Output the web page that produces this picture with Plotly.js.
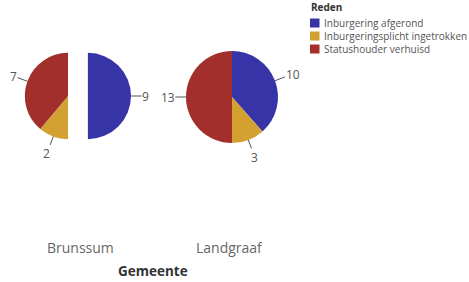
<!DOCTYPE html>
<html>
<head>
<meta charset="utf-8">
<script src="https://cdn.plot.ly/plotly-3.0.1.min.js"></script>
<style>html,body{margin:0;padding:0;background:#fff;}#chart{width:469px;height:282px;}</style>
</head>
<body>
<div id="chart"></div>
<script>
const gemeenten = ["Brunssum", "Landgraaf"];
const redenen = ["Inburgering afgerond", "Inburgeringsplicht ingetrokken", "Statushouder verhuisd"];
const brunssumValues = [9, 2, 7];
const landgraafValues = [10, 3, 13];
const brunssumPull = [0.46, 0, 0];
const landgraafPull = [0, 0, 0];
const kleuren = ["#3634a6", "#d3a032", "#a32f2d"];
const legendTitle = "Reden";
const xTitle = "Gemeente";

const W = 469, H = 282;
const px = x => x / W;
const py = y => 1 - y / H;
const FONT = "Open Sans, sans-serif";

const common = {
  type: "pie",
  labels: redenen,
  sort: false,
  direction: "clockwise",
  rotation: 0,
  textinfo: "none",
  marker: {colors: kleuren, line: {width: 0}},
  hoverinfo: "none",
  showlegend: false
};

const valueSets = [brunssumValues, landgraafValues];
const pullSets = [brunssumPull, landgraafPull];

const traces = [
  Object.assign({}, common, {
    values: brunssumValues,
    name: gemeenten[0],
    pull: brunssumPull,
    domain: {x: [px(5), px(131)], y: [py(159), py(33)]}
  }),
  Object.assign({}, common, {
    values: landgraafValues,
    name: gemeenten[1],
    pull: landgraafPull,
    domain: {x: [px(186), px(278)], y: [py(143), py(51)]}
  })
];

const shapes = [];
const baseAnnotations = [];
const legendY = [23, 36, 49];
redenen.forEach((r, i) => {
  const c = legendY[i];
  shapes.push({type: "rect", xref: "paper", yref: "paper",
    x0: px(310), x1: px(319.5), y0: py(c + 4.5), y1: py(c - 4.5),
    fillcolor: kleuren[i], line: {width: 0}});
  baseAnnotations.push({xref: "paper", yref: "paper", x: px(322), y: py(c),
    xanchor: "left", yanchor: "middle", showarrow: false, text: r,
    font: {family: FONT, size: 10, color: "#555"}});
});
baseAnnotations.push({xref: "paper", yref: "paper", x: px(309), y: py(7),
  xanchor: "left", yanchor: "middle", showarrow: false, text: "<b>" + legendTitle + "</b>",
  font: {family: FONT, size: 10, color: "#333"}});

const labelX = [80, 229];
gemeenten.forEach((g, i) => {
  baseAnnotations.push({xref: "paper", yref: "paper", x: px(labelX[i]), y: py(247),
    xanchor: "center", yanchor: "middle", showarrow: false, text: g,
    font: {family: FONT, size: 14, color: "#666"}});
});
baseAnnotations.push({xref: "paper", yref: "paper", x: px(153), y: py(271),
  xanchor: "center", yanchor: "middle", showarrow: false, text: "<b>" + xTitle + "</b>",
  font: {family: FONT, size: 13.5, color: "#333"}});

const layout = {
  width: W, height: H,
  margin: {l: 0, r: 0, t: 0, b: 0},
  paper_bgcolor: "#fff",
  plot_bgcolor: "#fff",
  showlegend: false,
  shapes: shapes,
  annotations: baseAnnotations,
  font: {family: FONT}
};

Plotly.newPlot("chart", traces, layout, {displayModeBar: false, staticPlot: true}).then(gd => {
  const extra = [];
  gd.calcdata.forEach((cd, ti) => {
    const cd0 = cd[0];
    const cx = cd0.cx, cy = cd0.cy, r = cd0.r;
    const vals = valueSets[ti];
    const pulls = pullSets[ti];
    const total = vals.reduce((a, b) => a + b, 0);
    let cum = 0;
    vals.forEach((v, i) => {
      const mid = 2 * Math.PI * (cum + v / 2) / total;
      cum += v;
      const ux = Math.sin(mid), uy = -Math.cos(mid);
      const off = (pulls[i] || 0) * r;
      const ex = cx + ux * (r + off), ey = cy + uy * (r + off);
      const txt = String(v);
      const hw = txt.length * 3.6 + 1, hh = 8;
      const d = Math.min(Math.abs(ux) > 1e-6 ? hw / Math.abs(ux) : 1e9,
                         Math.abs(uy) > 1e-6 ? hh / Math.abs(uy) : 1e9);
      const L = 9 + d + 1;
      extra.push({xref: "paper", yref: "paper", x: px(ex), y: py(ey),
        ax: ux * L, ay: uy * L, showarrow: true, arrowhead: 0, arrowwidth: 1,
        arrowcolor: "#555", standoff: 0, text: txt, borderpad: 0,
        font: {family: FONT, size: 12, color: "#555"}});
    });
  });
  return Plotly.relayout(gd, {annotations: baseAnnotations.concat(extra)});
});
</script>
</body>
</html>
